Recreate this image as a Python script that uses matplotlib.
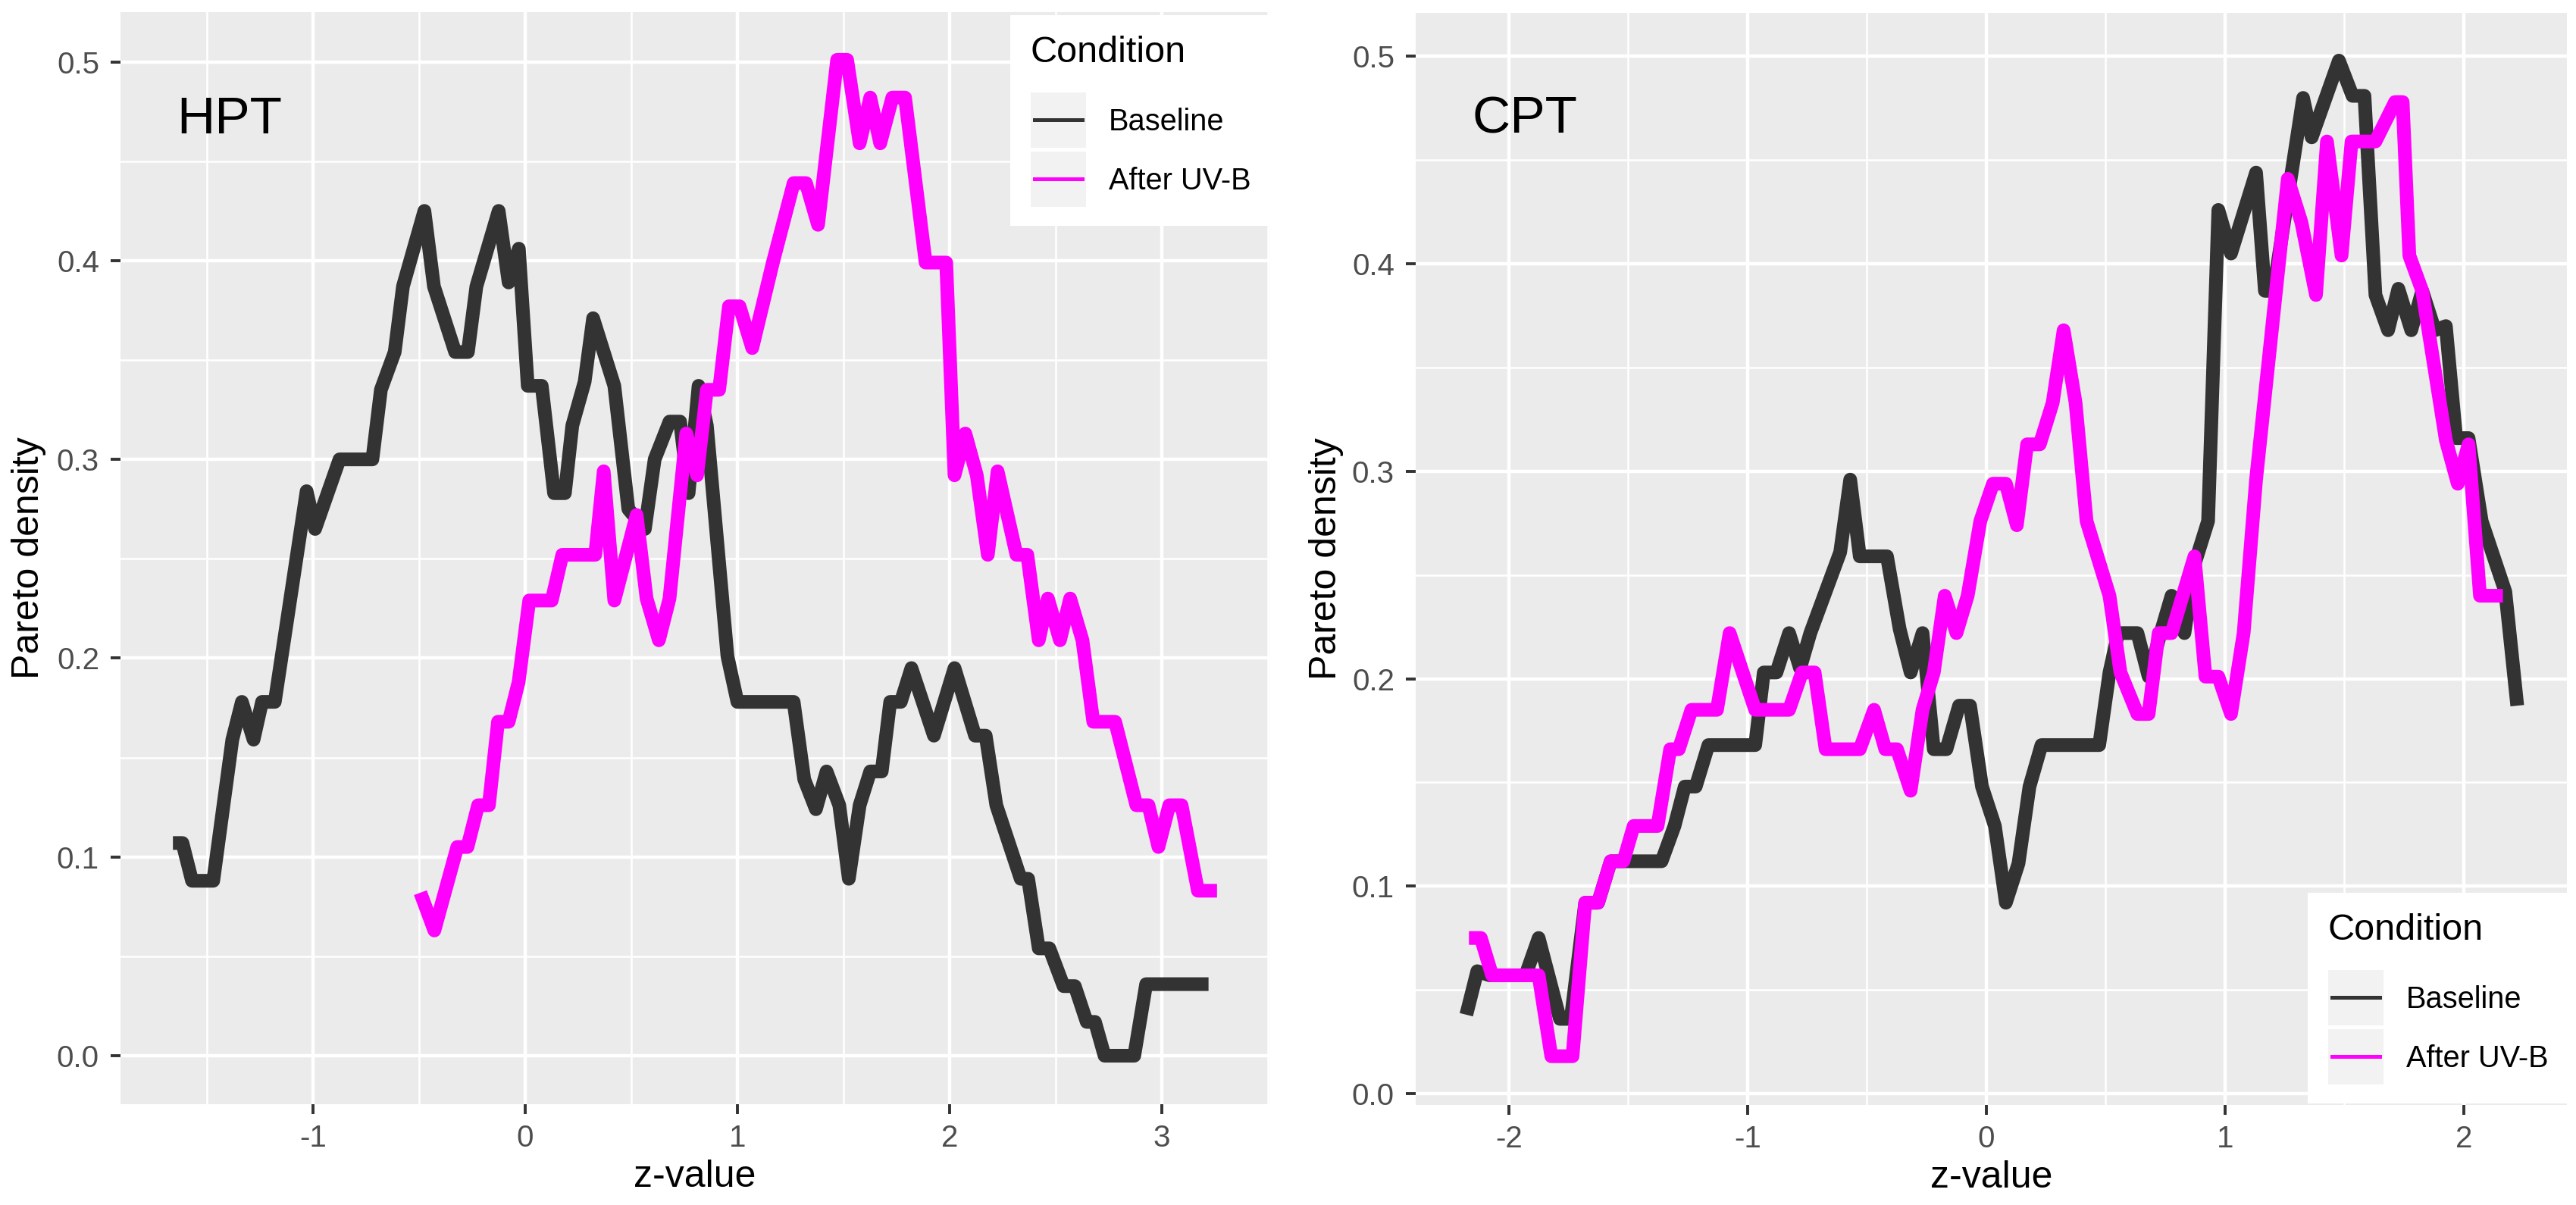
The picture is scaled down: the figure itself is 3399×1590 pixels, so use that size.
import matplotlib.pyplot as plt
from matplotlib.patches import Rectangle
from matplotlib.lines import Line2D
import numpy as np

plt.rcParams['font.family'] = ['Liberation Sans', 'DejaVu Sans']
plt.rcParams['axes.unicode_minus'] = False

# HPT panel
hpt_base_z = [-1.66, -1.615, -1.57, -1.47, -1.38, -1.335, -1.28, -1.24, -1.18, -1.03, -0.99, -0.875,
              -0.72, -0.68, -0.615, -0.576, -0.475, -0.43, -0.33, -0.27, -0.23, -0.125, -0.078, -0.03,
              0.012, 0.078, 0.136, 0.187, 0.222, 0.28, 0.32, 0.42, 0.486, 0.564, 0.61, 0.68, 0.73,
              0.77, 0.817, 0.856, 0.953, 1.0, 1.265, 1.315, 1.37, 1.42, 1.48, 1.525, 1.576, 1.626,
              1.68, 1.72, 1.77, 1.82, 1.926, 2.023, 2.12, 2.17, 2.22, 2.335, 2.37, 2.42, 2.47, 2.537,
              2.59, 2.646, 2.685, 2.73, 2.87, 2.926, 3.22]
hpt_base_d = [0.107, 0.107, 0.088, 0.088, 0.159, 0.178, 0.159, 0.178, 0.178, 0.284, 0.265, 0.300,
              0.300, 0.335, 0.354, 0.387, 0.425, 0.387, 0.354, 0.354, 0.387, 0.425, 0.389, 0.406,
              0.337, 0.337, 0.283, 0.283, 0.317, 0.339, 0.371, 0.337, 0.275, 0.265, 0.300, 0.319, 0.319,
              0.283, 0.337, 0.317, 0.201, 0.178, 0.178, 0.139, 0.124, 0.143, 0.126, 0.089, 0.126, 0.143,
              0.143, 0.178, 0.178, 0.195, 0.161, 0.195, 0.161, 0.161, 0.126, 0.089, 0.089, 0.054, 0.054, 0.035,
              0.035, 0.017, 0.017, 0.0, 0.0, 0.036, 0.036]

hpt_uvb_z = [-0.494, -0.428, -0.32, -0.272, -0.222, -0.171, -0.128, -0.078, -0.031, 0.019, 0.125, 0.175,
             0.33, 0.37, 0.42, 0.525, 0.572, 0.63, 0.68, 0.759, 0.81, 0.856, 0.914, 0.96, 1.01, 1.07,
             1.167, 1.265, 1.323, 1.38, 1.47, 1.517, 1.576, 1.626, 1.673, 1.73, 1.79, 1.887, 1.984,
             2.023, 2.074, 2.128, 2.18, 2.226, 2.315, 2.366, 2.42, 2.463, 2.52, 2.568, 2.626, 2.677,
             2.78, 2.88, 2.937, 2.984, 3.035, 3.093, 3.17, 3.26]
hpt_uvb_d = [0.082, 0.063, 0.105, 0.105, 0.126, 0.126, 0.168, 0.168, 0.188, 0.229, 0.229, 0.252,
             0.252, 0.294, 0.229, 0.272, 0.230, 0.209, 0.230, 0.313, 0.292, 0.335, 0.335, 0.377, 0.377, 0.356,
             0.399, 0.439, 0.439, 0.418, 0.501, 0.501, 0.459, 0.482, 0.459, 0.482, 0.482, 0.399, 0.399,
             0.292, 0.313, 0.292, 0.252, 0.294, 0.252, 0.252, 0.209, 0.230, 0.209, 0.230, 0.209, 0.168,
             0.168, 0.126, 0.126, 0.105, 0.126, 0.126, 0.083, 0.083]

# CPT panel
cpt_base_z = [-2.178, -2.132, -2.08, -1.93, -1.875, -1.786, -1.74, -1.68, -1.626, -1.573, -1.36, -1.306,
              -1.263, -1.217, -1.164, -0.968, -0.932, -0.879, -0.826, -0.78, -0.737, -0.612, -0.57, -0.53,
              -0.416, -0.363, -0.317, -0.267, -0.22, -0.167, -0.114, -0.068, -0.018, 0.036, 0.082, 0.135,
              0.181, 0.231, 0.473, 0.516, 0.552, 0.633, 0.68, 0.73, 0.776, 0.83, 0.872, 0.929, 0.972,
              1.025, 1.13, 1.167, 1.203, 1.327, 1.363, 1.477, 1.534, 1.584, 1.63, 1.683, 1.726, 1.78,
              1.826, 1.879, 1.925, 1.968, 2.02, 2.075, 2.174, 2.224]
cpt_base_d = [0.038, 0.059, 0.057, 0.057, 0.075, 0.036, 0.036, 0.092, 0.092, 0.112, 0.112, 0.129,
              0.148, 0.148, 0.168, 0.168, 0.203, 0.203, 0.222, 0.205, 0.222, 0.261, 0.296, 0.259,
              0.259, 0.224, 0.203, 0.222, 0.166, 0.166, 0.187, 0.187, 0.148, 0.129, 0.092, 0.111,
              0.148, 0.168, 0.168, 0.203, 0.222, 0.222, 0.201, 0.222, 0.240, 0.222, 0.255, 0.276, 0.426,
              0.405, 0.444, 0.387, 0.387, 0.480, 0.461, 0.498, 0.481, 0.481, 0.385, 0.368, 0.388, 0.368,
              0.387, 0.368, 0.370, 0.316, 0.316, 0.276, 0.242, 0.187]

cpt_uvb_z = [-2.167, -2.117, -2.07, -1.875, -1.822, -1.733, -1.68, -1.626, -1.573, -1.52, -1.477, -1.377,
             -1.324, -1.288, -1.235, -1.128, -1.075, -0.968, -0.826, -0.772, -0.719, -0.673, -0.53, -0.47,
             -0.423, -0.374, -0.317, -0.267, -0.22, -0.174, -0.125, -0.078, -0.025, 0.028, 0.082, 0.128,
             0.171, 0.224, 0.278, 0.324, 0.374, 0.42, 0.516, 0.562, 0.633, 0.68, 0.722, 0.776, 0.872,
             0.918, 0.972, 1.025, 1.078, 1.13, 1.263, 1.32, 1.381, 1.427, 1.488, 1.53, 1.63, 1.712,
             1.744, 1.772, 1.826, 1.925, 1.975, 2.02, 2.068, 2.164]
cpt_uvb_d = [0.075, 0.075, 0.057, 0.057, 0.018, 0.018, 0.092, 0.092, 0.112, 0.112, 0.129, 0.129,
             0.166, 0.166, 0.185, 0.185, 0.222, 0.185, 0.185, 0.203, 0.203, 0.166, 0.166, 0.185,
             0.166, 0.166, 0.146, 0.185, 0.203, 0.240, 0.222, 0.240, 0.276, 0.294, 0.294, 0.274,
             0.313, 0.313, 0.333, 0.368, 0.333, 0.276, 0.240, 0.203, 0.183, 0.183, 0.222, 0.222, 0.259,
             0.201, 0.201, 0.183, 0.222, 0.296, 0.441, 0.420, 0.385, 0.459, 0.404, 0.459, 0.459, 0.478,
             0.478, 0.404, 0.387, 0.315, 0.294, 0.313, 0.240, 0.240]

conditions = ['Baseline', 'After UV-B']
colors = ['#333333', '#FF00FF']

W, H = 3399, 1590
fig = plt.figure(figsize=(W / 200, H / 200), dpi=200)


def fx(x):
    return x / W


def fy(y):
    return 1 - y / H


def make_axes(x0, x1, y0, y1):
    return fig.add_axes([fx(x0), fy(y1), fx(x1) - fx(x0), fy(y0) - fy(y1)])


def style(ax, xmajor, xminor, ylab_x):
    ax.set_facecolor('#EBEBEB')
    for s in ax.spines.values():
        s.set_visible(False)
    ax.set_xticks(xmajor)
    ax.set_xticks(xminor, minor=True)
    ax.set_yticks(np.arange(0, 0.51, 0.1))
    ax.set_yticks(np.arange(0.05, 0.51, 0.1), minor=True)
    ax.set_yticklabels(['0.0', '0.1', '0.2', '0.3', '0.4', '0.5'])
    ax.grid(which='major', color='white', lw=1.6)
    ax.grid(which='minor', color='white', lw=0.9)
    ax.set_axisbelow(True)
    ax.tick_params(which='major', length=4.7, width=1.4, color='#333333',
                   labelsize=14.5, labelcolor='#4D4D4D', pad=5.4)
    ax.tick_params(axis='x', which='major', pad=4.5)
    ax.tick_params(which='minor', length=0)
    ax.set_xlabel('z-value', fontsize=18, va='center')
    ax.set_ylabel('Pareto density', fontsize=18, va='center')
    ax.xaxis.set_label_coords(0.5, -0.0666)
    ax.yaxis.set_label_coords(ylab_x, 0.5)


def legend(x0, y0):
    # white box with title and two keys, positions in image pixels
    fig.patches.append(Rectangle((fx(x0), fy(y0 + 278)), fx(342), 278 / H,
                                 transform=fig.transFigure, facecolor='white', edgecolor='none', zorder=5))
    fig.text(fx(x0 + 27), fy(y0 + 49), 'Condition', fontsize=17.5, va='center', ha='left', zorder=6)
    for i, (lab, c) in enumerate(zip(conditions, colors)):
        top = y0 + 102 + i * 78
        fig.patches.append(Rectangle((fx(x0 + 27), fy(top + 73)), fx(73), 73 / H,
                                     transform=fig.transFigure, facecolor='#F2F2F2',
                                     edgecolor='none', zorder=6))
        fig.lines.append(Line2D([fx(x0 + 32), fx(x0 + 95)], [fy(top + 36), fy(top + 36)],
                                transform=fig.transFigure, color=c, lw=1.8, zorder=7))
        fig.text(fx(x0 + 130), fy(top + 39), lab, fontsize=14.3, va='center', ha='left', zorder=7)


# HPT
ax1 = make_axes(159, 1675, 16, 1457)
style(ax1, [-1, 0, 1, 2, 3], [-1.5, -0.5, 0.5, 1.5, 2.5, 3.5], -0.0798)
ax1.plot(hpt_base_z, hpt_base_d, color=colors[0], lw=6.5, solid_joinstyle='round', solid_capstyle='butt')
ax1.plot(hpt_uvb_z, hpt_uvb_d, color=colors[1], lw=6.5, solid_joinstyle='round', solid_capstyle='butt')
ax1.set_xlim(-1.907, 3.507)
ax1.set_ylim(-0.0244, 0.525)
fig.text(fx(233), fy(158), 'HPT', fontsize=25, va='center', ha='left')
legend(1333, 20)

# CPT
ax2 = make_axes(1868, 3387, 17, 1458)
style(ax2, [-2, -1, 0, 1, 2], [-2.5, -1.5, -0.5, 0.5, 1.5, 2.5], -0.078)
ax2.plot(cpt_base_z, cpt_base_d, color=colors[0], lw=6.5, solid_joinstyle='round', solid_capstyle='butt')
ax2.plot(cpt_uvb_z, cpt_uvb_d, color=colors[1], lw=6.5, solid_joinstyle='round', solid_capstyle='butt')
ax2.set_xlim(-2.39, 2.432)
ax2.set_ylim(-0.0055, 0.521)
fig.text(fx(1942), fy(158), 'CPT', fontsize=25, va='center', ha='left')
legend(3045, 1178)

fig.savefig('out.png', dpi=200, facecolor='white')
